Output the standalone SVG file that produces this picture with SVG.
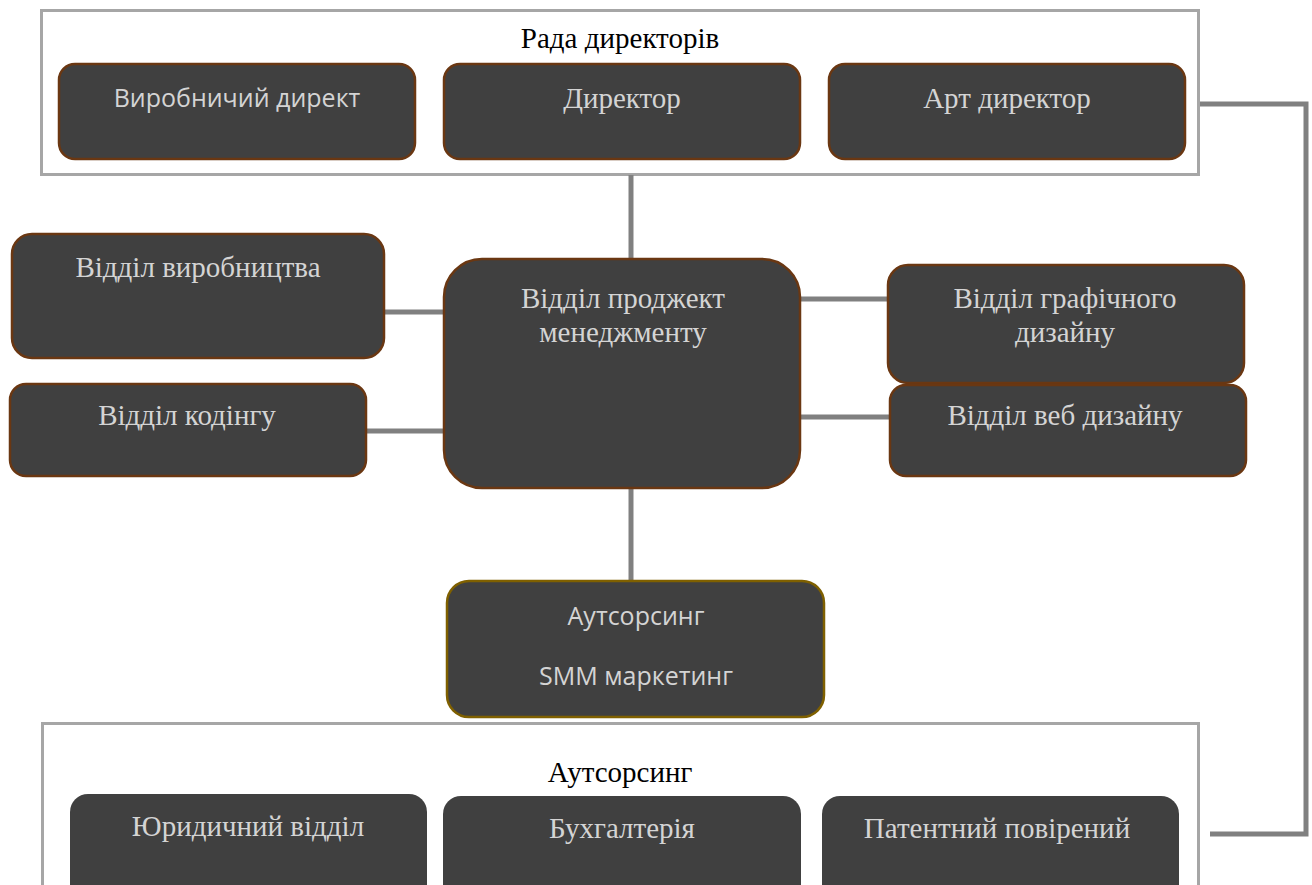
<svg xmlns="http://www.w3.org/2000/svg" width="1312" height="885" viewBox="0 0 1312 885">
<style>
.bg{fill:#ffffff}
.cont{fill:#ffffff;stroke:#a6a6a6;stroke-width:3}
.node{fill:#404040;stroke:#6a3712;stroke-width:2.5}
.nodeo{fill:#404040;stroke:#7f6000;stroke-width:2.5}
.nodeb{fill:#404040}
.conn{stroke:#808080;stroke-width:5;fill:none}
.ts{font-family:"Liberation Serif","Times New Roman",serif;font-size:29px;fill:#d4d4d4;text-anchor:middle}
.tn{font-family:"Open Sans","Liberation Sans",sans-serif;font-size:25px;fill:#d4d4d4;text-anchor:middle}
.th{font-family:"Liberation Serif","Times New Roman",serif;font-size:29px;fill:#000000;text-anchor:middle}
</style>
<rect class="bg" x="0" y="0" width="1312" height="885"/>
<g id="board">
<rect class="cont" x="41.5" y="10.5" width="1157" height="164"/>
<text class="th" x="620" y="48">Рада директорів</text>
</g>
<g id="outsourcing-container">
<rect class="cont" x="42.5" y="723.5" width="1156" height="200"/>
<text class="th" x="620" y="782">Аутсорсинг</text>
</g>
<g id="connectors">
<line class="conn" x1="631" y1="175" x2="631" y2="260"/>
<line class="conn" x1="367" y1="312" x2="445" y2="312"/>
<line class="conn" x1="366" y1="431" x2="445" y2="431"/>
<line class="conn" x1="800" y1="299" x2="889" y2="299"/>
<line class="conn" x1="800" y1="417" x2="891" y2="417"/>
<line class="conn" x1="631" y1="488" x2="631" y2="581"/>
<polyline class="conn" points="1200,104 1306,104 1306,834 1210,834"/>
</g>
<g id="n-vyrob-dyrekt">
<rect class="node" x="59" y="64" width="356" height="95" rx="16"/>
<text class="tn" x="237" y="107">Виробничий директ</text>
</g>
<g id="n-dyrektor">
<rect class="node" x="444" y="64" width="356" height="95" rx="16"/>
<text class="ts" x="622" y="108">Директор</text>
</g>
<g id="n-art">
<rect class="node" x="829" y="64" width="356" height="95" rx="16"/>
<text class="ts" x="1007" y="108">Арт директор</text>
</g>
<g id="n-vyrobnytstva">
<rect class="node" x="12" y="234" width="372" height="124" rx="20"/>
<text class="ts" x="198" y="277">Відділ виробництва</text>
</g>
<g id="n-kodingu">
<rect class="node" x="10" y="384" width="356" height="92" rx="16"/>
<text class="ts" x="187" y="425">Відділ кодінгу</text>
</g>
<g id="n-pm">
<rect class="node" x="444" y="259" width="356" height="229" rx="38"/>
<text class="ts" x="623" y="308">Відділ проджект</text>
<text class="ts" x="623" y="342">менеджменту</text>
</g>
<g id="n-graf">
<rect class="node" x="888" y="265" width="356" height="118" rx="20"/>
<text class="ts" x="1065" y="308">Відділ графічного</text>
<text class="ts" x="1065" y="342">дизайну</text>
</g>
<g id="n-veb">
<rect class="node" x="890" y="385" width="356" height="91" rx="16"/>
<text class="ts" x="1065" y="425">Відділ веб дизайну</text>
</g>
<g id="n-smm">
<rect class="nodeo" x="447" y="581" width="377" height="136" rx="22"/>
<text class="tn" x="636" y="625">Аутсорсинг</text>
<text class="tn" x="636" y="685">SMM маркетинг</text>
</g>
<g id="n-yur">
<rect class="nodeb" x="70" y="794" width="357" height="120" rx="18"/>
<text class="ts" x="248" y="836">Юридичний відділ</text>
</g>
<g id="n-buh">
<rect class="nodeb" x="443" y="796" width="358" height="120" rx="18"/>
<text class="ts" x="622" y="838">Бухгалтерія</text>
</g>
<g id="n-patent">
<rect class="nodeb" x="822" y="796" width="357" height="120" rx="18"/>
<text class="ts" x="997" y="838">Патентний повірений</text>
</g>
</svg>
